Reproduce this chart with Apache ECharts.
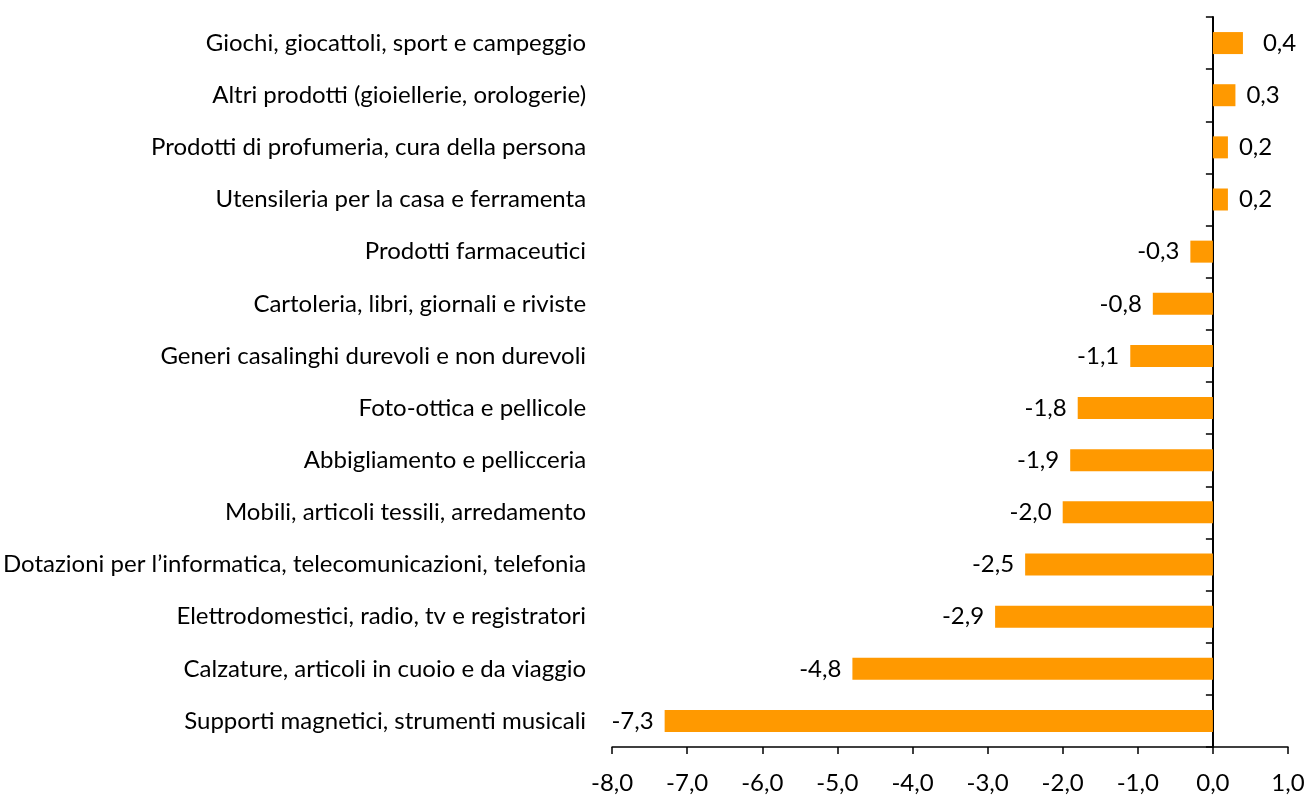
<!DOCTYPE html>
<html><head><meta charset="utf-8">
<script src="https://cdn.jsdelivr.net/npm/echarts@6/dist/echarts.min.js"></script>
<style>html,body{margin:0;padding:0;background:#fff}#c{width:1311px;height:799px}</style>
</head><body><div id="c"></div>
<script>
const categories = [
  "Giochi, giocattoli, sport e campeggio",
  "Altri prodotti (gioiellerie, orologerie)",
  "Prodotti di profumeria, cura della persona",
  "Utensileria per la casa e ferramenta",
  "Prodotti farmaceutici",
  "Cartoleria, libri, giornali e riviste",
  "Generi casalinghi durevoli e non durevoli",
  "Foto-ottica e pellicole",
  "Abbigliamento e pellicceria",
  "Mobili, articoli tessili, arredamento",
  "Dotazioni per l\u2019informatica, telecomunicazioni, telefonia",
  "Elettrodomestici, radio, tv e registratori",
  "Calzature, articoli in cuoio e da viaggio",
  "Supporti magnetici, strumenti musicali"
];
const values = [0.4, 0.3, 0.2, 0.2, -0.3, -0.8, -1.1, -1.8, -1.9, -2.0, -2.5, -2.9, -4.8, -7.3];
const xTicks = {min: -8, max: 1, interval: 1};

const FONT = 'Lato';
const FS = 24;
const fmt = v => v.toFixed(1).replace('.', ',');
const chart = echarts.init(document.getElementById('c'), null, {renderer: 'canvas'});
chart.setOption({
  animation: false,
  grid: {left: 611, right: 23, top: 17, bottom: 52, containLabel: false},
  xAxis: {
    type: 'value', min: xTicks.min, max: xTicks.max, interval: xTicks.interval,
    axisLine: {show: true, onZero: false, lineStyle: {color: '#000', width: 1.5}},
    axisTick: {show: true, length: 7, lineStyle: {color: '#000', width: 1.5}},
    splitLine: {show: false},
    axisLabel: {formatter: fmt, fontFamily: FONT, fontSize: FS, color: '#000', margin: 24}
  },
  yAxis: [{
    type: 'category', data: categories, inverse: true, position: 'left',
    axisLine: {show: false, onZero: false}, axisTick: {show: false},
    axisLabel: {fontFamily: FONT, fontSize: FS, color: '#000', margin: 26}
  }, {
    type: 'category', data: categories, inverse: true, position: 'left',
    axisLine: {show: true, onZero: true, lineStyle: {color: '#000', width: 2}},
    axisTick: {show: true, length: 7, lineStyle: {color: '#000', width: 1.5}},
    axisLabel: {show: false}
  }],
  series: [{
    type: 'bar', yAxisIndex: 0, barWidth: 22,
    itemStyle: {color: '#FF9900'},
    data: values.map((v, i) => ({
      value: v,
      label: {show: true, position: v >= 0 ? 'right' : 'left', distance: i === 0 ? 20 : 11,
        formatter: p => fmt(p.value), fontFamily: FONT, fontSize: FS, color: '#000'}
    }))
  }]
});
</script></body></html>
